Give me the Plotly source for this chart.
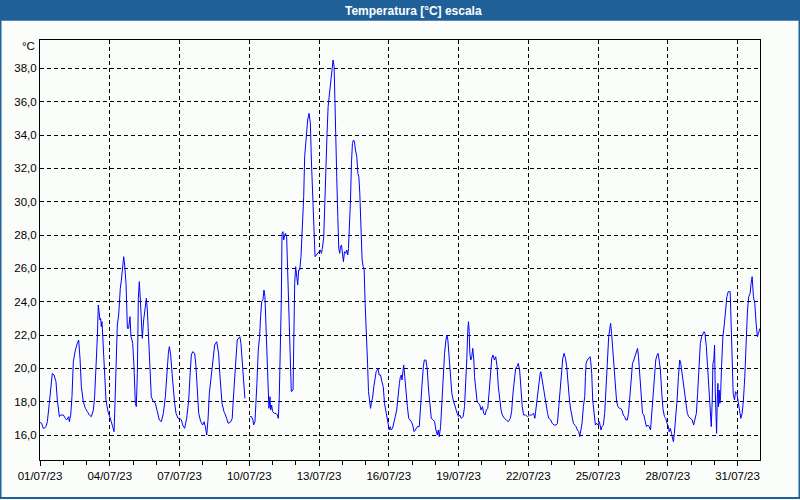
import datetime as dt
import plotly.graph_objects as go

# ---- data: hours since 2023-07-01 00:00 and temperature [°C] ----
seg1_hours = [0.0, 1.7, 3.4, 4.1, 6.2, 7.6, 9.6, 11.4, 12.7, 14.5, 16.5, 17.9, 20.0, 21.3, 24.1, 26.2, 27.5, 29.6, 30.3, 31.7,
              33.0, 34.4, 36.5, 38.5, 39.9, 41.3, 42.7, 44.7, 46.8, 48.9, 50.9, 53.0, 55.1, 56.4, 57.8, 59.2, 60.2, 61.3, 61.9, 62.6,
              63.3, 64.0, 65.4, 66.8, 68.1, 70.2, 72.3, 73.6, 75.0, 76.4, 77.1, 77.8, 79.1, 79.8, 81.2, 81.9, 82.9, 84.0, 85.3, 86.4,
              87.4, 88.8, 90.2, 91.5, 92.9, 93.9, 95.0, 95.7, 97.0, 98.4, 99.4, 100.5, 101.5, 102.5, 103.6, 104.6, 105.6, 107.0, 108.7, 109.8,
              110.8, 112.2, 113.6, 114.9, 117.0, 119.1, 121.1, 123.2, 125.3, 127.3, 129.4, 130.8, 132.5, 133.5, 134.9, 136.3, 137.6, 139.0, 140.4, 142.5,
              144.5, 145.9, 147.3, 149.3, 151.4, 153.5, 154.8, 156.2, 157.6, 159.7, 161.0, 162.4, 163.8, 165.9, 167.9, 169.3, 170.7, 172.1, 173.4, 174.8,
              176.9, 178.9, 180.3, 182.4, 184.4, 185.8, 187.9, 189.9]
seg1_temp = [16.75, 16.7, 16.4, 16.4, 16.5, 16.8, 17.9, 19.1, 19.7, 19.6, 19.2, 18.1, 17.1, 17.2, 17.2, 17.0, 16.9, 17.1, 16.8, 17.2,
             18.3, 20.4, 21.1, 21.5, 21.7, 20.6, 18.9, 18.0, 17.6, 17.4, 17.2, 17.1, 17.5, 18.3, 19.9, 21.9, 23.8, 23.4, 22.9, 23.0,
             22.5, 22.8, 21.3, 19.9, 18.1, 17.4, 17.1, 16.8, 16.5, 16.2, 17.3, 19.1, 21.5, 22.6, 23.2, 24.3, 24.8, 25.3, 26.0, 26.7,
             26.2, 25.1, 22.4, 22.4, 23.1, 21.9, 21.7, 21.5, 20.1, 17.9, 17.7, 19.7, 24.2, 25.2, 24.1, 22.5, 21.8, 22.9, 23.6, 24.2,
             23.5, 21.5, 19.3, 18.3, 18.0, 17.9, 17.4, 16.9, 16.8, 17.3, 18.3, 19.7, 20.9, 21.3, 20.8, 19.7, 18.7, 17.9, 17.3, 17.0,
             17.0, 16.9, 16.6, 16.4, 17.0, 18.1, 19.5, 20.8, 21.0, 20.9, 20.1, 18.5, 17.3, 16.8, 16.6, 16.8, 16.5, 16.0, 16.9, 18.5,
             19.7, 20.9, 21.4, 21.6, 20.9, 19.5, 17.9, 17.4]

seg2_hours = [190.8, 192.6, 194.3, 197.0, 198.4, 199.5, 201.2, 202.2, 203.6, 205.3, 206.3, 207.4, 208.8, 210.1, 211.5, 213.0,
              216.7, 218.4, 219.8, 220.5, 221.9, 222.9, 223.9, 225.3, 226.7, 227.7, 228.8, 230.1, 231.2, 232.2, 233.2, 234.3, 235.3, 236.3,
              237.4, 238.1, 239.1, 240.1, 241.9, 243.6, 245.0, 246.0, 247.0, 248.1, 249.1, 249.8, 250.8, 251.5, 252.2, 253.2, 254.6, 255.7,
              256.7, 257.7, 258.8, 259.4, 261.2, 261.9, 262.9, 263.9, 265.0, 266.0, 267.0, 268.1, 269.4, 270.8, 272.2, 273.2, 274.3, 275.3,
              276.3, 277.7, 279.1, 280.1, 281.2, 282.2, 283.2, 283.9, 285.3, 286.7, 288.1, 289.4, 290.5, 291.5, 292.9, 293.9, 295.0, 296.3,
              297.4, 298.4, 299.8, 300.8, 301.9, 302.5, 303.6, 304.6, 305.6, 306.3, 307.4, 308.4, 309.4, 310.1, 311.2, 312.2, 313.2, 314.3,
              315.6, 316.7, 317.7, 318.4, 319.4, 320.5, 321.5, 322.5, 323.6, 324.6, 325.6, 327.0, 328.1, 329.1, 330.1, 331.5, 332.5, 333.6,
              334.6, 335.6, 337.0, 338.1, 339.1, 340.1, 341.2, 342.2, 343.2, 344.6, 346.0, 347.0, 348.1, 348.8, 350.1, 351.5, 352.9, 354.3,
              355.6, 357.0, 358.4, 359.4, 360.5, 361.5, 362.5, 363.9, 365.3, 366.7]
seg2_temp = [17.3, 17.0, 16.7, 16.8, 17.0, 18.1, 19.3, 20.5, 21.7, 21.8, 21.9, 21.5, 20.4, 19.3, 18.2, None,
             17.1, 17.1, 16.9, 16.6, 16.8, 17.7, 19.1, 21.1, 21.9, 23.1, 24.0, 24.1, 24.7, 24.3, 22.7, 20.7, 19.3, 17.6,
             18.3, 17.5, 17.8, 17.4, 17.3, 17.3, 17.2, 17.0, 18.3, 20.7, 24.1, 28.1, 28.2, 27.7, 28.0, 28.1, 27.9, 25.9,
             23.9, 22.3, 20.1, 18.6, 18.7, 21.5, 25.1, 26.1, 25.5, 25.0, 25.9, 25.9, 26.7, 28.5, 30.3, 32.7, 33.7, 34.5,
             34.9, 35.3, 34.7, 32.5, 31.1, 29.5, 27.7, 26.7, 26.8, 26.9, 27.0, 27.1, 26.9, 27.2, 27.9, 30.1, 32.1, 34.1,
             35.7, 36.3, 36.9, 37.5, 38.2, 38.5, 38.1, 36.1, 34.3, 31.5, 29.1, 27.2, 26.9, 27.3, 27.4, 26.7, 26.4, 27.0,
             26.9, 27.1, 26.8, 27.2, 28.3, 30.1, 32.3, 33.5, 33.7, 33.6, 33.1, 32.7, 31.7, 31.5, 30.5, 28.7, 26.5, 26.1,
             25.9, 23.9, 22.3, 20.3, 18.6, 18.2, 17.6, 18.0, 18.2, 18.9, 19.5, 19.8, 19.9, 20.0, 19.6, 19.6, 19.2, 18.9,
             17.9, 17.4, 16.9, 16.6, 16.3, 16.5, 16.3, 16.4, 16.7, 17.1]

seg3_hours = [368.2, 369.6, 371.0, 372.0, 373.0, 373.7, 374.4, 375.4, 376.5, 377.8, 379.2, 380.6, 382.0, 383.3, 384.7, 386.1, 387.4,
              389.5, 391.5, 392.9, 394.3, 395.7, 396.7, 398.4, 399.8, 401.1, 402.5, 403.9, 406.0, 407.3, 408.7, 410.1, 411.1, 412.1, 413.5,
              414.9, 416.2, 417.6, 419.0, 420.0, 421.0, 422.4, 423.8, 425.1, 426.5, 427.9, 429.2, 430.6, 432.0, 433.4, 434.7, 436.8, 438.2,
              439.5, 440.6, 441.6, 442.3, 443.0, 443.7, 444.7, 445.7, 446.7, 447.8, 448.5, 449.8, 451.2, 452.6, 454.0, 455.3, 456.7, 458.0,
              459.4, 460.8, 462.2, 463.5, 464.9, 466.3, 467.6, 469.0, 470.4, 471.8, 473.1, 474.5, 475.9, 477.2, 479.3, 481.4, 483.4, 485.5,
              486.8, 488.2, 489.6, 491.0, 492.3, 493.7, 495.1, 496.4, 497.8, 499.2, 501.2, 503.3, 505.4, 507.4, 509.5, 510.8, 512.2, 513.6,
              515.0, 516.3, 517.0, 518.4, 519.8, 521.1, 522.5, 523.9, 525.2, 527.3, 528.7, 530.7, 532.8, 534.1, 535.5, 536.9, 538.3, 539.6,
              541.0, 542.4, 543.7, 545.1, 546.5, 547.9, 549.2, 550.6, 552.0, 553.3, 554.7, 556.1, 557.1]
seg3_temp = [17.5, 18.5, 19.1, 19.5, 19.6, 19.3, 19.9, 20.2, 19.5, 18.3, 17.7, 17.0, 16.9, 16.8, 16.6, 16.2, 16.3,
             16.5, 16.5, 17.5, 19.0, 20.1, 20.5, 20.5, 19.9, 18.7, 17.6, 17.0, 16.9, 16.8, 16.3, 16.0, 16.3, 15.9, 16.5,
             18.1, 19.5, 20.9, 21.7, 22.0, 21.7, 20.5, 19.3, 18.5, 18.1, 17.8, 17.5, 17.3, 17.1, 17.2, 17.0, 17.1, 17.7,
             18.9, 20.6, 22.3, 22.8, 22.2, 20.9, 20.5, 20.7, 21.2, 20.5, 19.5, 18.5, 18.0, 17.9, 17.8, 17.5, 17.7, 17.3,
             17.2, 17.5, 17.6, 18.5, 19.7, 20.6, 20.8, 20.5, 20.7, 20.1, 18.9, 18.1, 17.5, 17.2, 17.0, 16.9, 16.8, 17.0,
             17.4, 18.5, 19.3, 20.0, 20.1, 20.3, 19.9, 18.7, 17.7, 17.2, 17.2, 17.1, 17.2, 17.2, 17.3, 17.0, 17.7, 18.3,
             19.3, 19.7, 19.8, 19.3, 18.7, 18.1, 17.7, 17.3, 17.0, 16.9, 16.7, 16.6, 16.6, 16.7, 17.7, 18.9, 20.1, 20.6,
             20.9, 20.6, 20.1, 18.9, 18.1, 17.5, 17.0, 16.7, 16.6, 16.5, 16.3, 16.2, 15.9]

seg4_hours = [559.5, 560.9, 562.3, 563.0, 563.7, 565.0, 566.4, 567.8, 568.5, 569.5, 570.5, 571.9, 573.3, 574.6, 576.0, 577.4, 578.1,
              579.1, 580.1, 581.5, 582.9, 584.2, 585.6, 587.0, 588.3, 589.0, 590.0, 591.1, 592.4, 593.8, 595.2, 596.6, 597.9, 599.3, 600.7,
              602.1, 603.4, 604.8, 606.2, 607.5, 608.9, 610.3, 611.6, 613.0, 614.4, 615.8, 616.8, 617.8, 619.2, 620.6, 621.9, 623.3, 624.7,
              626.0, 627.4, 628.8, 630.2, 631.5, 632.9, 634.3, 635.6, 637.0, 638.0, 639.1, 640.4, 641.8, 643.2, 644.6, 645.9, 647.3, 648.7,
              649.4, 650.7, 651.8, 652.8, 653.8, 654.8, 656.2, 657.6, 659.0, 660.3, 661.4, 662.7, 664.1, 665.5, 666.8, 668.2, 669.6, 671.3,
              673.3, 674.7, 676.1, 677.5, 678.8, 680.2, 681.6, 683.0, 684.3, 685.4, 686.4, 687.8, 689.1, 690.5, 691.9, 692.9, 693.9, 694.6,
              695.6, 696.3, 697.0, 697.7, 698.4, 699.1, 699.7, 700.4, 701.1, 701.8, 702.5, 703.5, 704.9, 706.3, 707.6, 709.0, 710.4, 712.4,
              713.5, 714.5, 715.5, 716.9, 717.9, 719.3, 720.7, 722.0, 723.4, 724.8, 726.1, 727.5, 728.9, 730.3, 731.6, 733.0, 734.0, 735.1,
              736.4, 737.8, 739.2, 740.5, 741.6, 742.6, 743.2]
seg4_temp = [16.7, 17.7, 18.3, 19.5, 20.3, 20.5, 20.6, 20.7, 20.4, 19.7, 18.1, 17.1, 16.6, 16.7, 16.6, 16.8, 16.6,
             16.3, 16.5, 16.6, 17.3, 18.5, 20.3, 21.9, 22.5, 22.7, 22.1, 21.3, 20.5, 19.1, 18.0, 17.7, 17.6, 17.6, 17.5,
             17.2, 17.1, 16.9, 16.9, 17.3, 18.5, 19.3, 20.3, 20.5, 20.8, 21.1, 21.2, 20.7, 19.7, 18.5, 17.3, 17.2, 16.7,
             16.5, 16.6, 16.5, 16.3, 17.3, 18.5, 19.9, 20.5, 20.8, 20.9, 20.5, 19.9, 18.5, 17.5, 17.1, 17.0, 16.7, 16.5,
             16.2, 16.4, 16.1, 15.9, 15.6, 16.1, 16.9, 18.1, 19.5, 20.5, 20.3, 19.7, 18.9, 18.5, 17.9, 17.3, 17.1, 17.0,
             16.9, 16.6, 16.9, 17.3, 18.5, 19.9, 21.5, 21.9, 22.1, 22.2, 22.1, 21.3, 20.1, 18.5, 17.5, 16.5, 18.1, 20.3,
             20.5, 21.4, 18.7, 17.3, 16.1, 18.1, 19.1, 17.7, 18.7, 17.9, 18.3, 20.1, 21.9, 22.6, 23.5, 24.3, 24.6, 24.6,
             22.5, 20.1, 18.5, 18.1, 18.6, 18.5, 17.9, 17.3, 17.0, 17.3, 18.1, 19.5, 22.1, 23.5, 24.3, 24.5, 25.1, 25.5,
             24.3, 23.9, 22.7, 21.9, 22.1, 22.3, 22.4]

start = dt.datetime(2023, 7, 1)
hours = seg1_hours + seg2_hours + seg3_hours + seg4_hours
temps = seg1_temp + seg2_temp + seg3_temp + seg4_temp
times = [start + dt.timedelta(hours=h) for h in hours]

x_tick_labels = ["01/07/23", "04/07/23", "07/07/23", "10/07/23", "13/07/23", "16/07/23",
                 "19/07/23", "22/07/23", "25/07/23", "28/07/23", "31/07/23"]
x_tick_vals = [dt.datetime.strptime(s, "%d/%m/%y") for s in x_tick_labels]
y_tick_vals = [16, 18, 20, 22, 24, 26, 28, 30, 32, 34, 36, 38]
y_tick_labels = [f"{v},0" for v in y_tick_vals]

title_text = "Temperatura [°C] escala"
unit_text = "°C"

BG = "#fbfdfb"
BAR = "#1f6098"
FONT = "Liberation Sans"
DASH = "4px,3px"

fig = go.Figure()
fig.add_trace(go.Scatter(x=times, y=temps, mode="lines",
                         line=dict(color="#0000ff", width=1),
                         connectgaps=False, hoverinfo="skip"))

W, H = 800, 500
L, R, T, B = 40, 40, 40, 40
pw, ph = W - L - R, H - T - B

def px_x(p):
    return (p - L) / pw

def px_y(p):
    return (H - B - p) / ph

fig.update_layout(
    width=W, height=H,
    margin=dict(l=L, r=R, t=T, b=B, autoexpand=False),
    paper_bgcolor=BG, plot_bgcolor=BG,
    showlegend=False,
    font=dict(family=FONT, size=11.5, color="#000000"),
    shapes=[
        dict(type="rect", xref="paper", yref="paper",
             x0=px_x(0), x1=px_x(W), y0=px_y(20.7), y1=px_y(0),
             fillcolor=BAR, line=dict(width=0), layer="above"),
        dict(type="rect", xref="paper", yref="paper",
             x0=px_x(0.5), x1=px_x(W - 0.5), y0=px_y(H - 2), y1=px_y(0.5),
             fillcolor="rgba(0,0,0,0)", line=dict(color=BAR, width=2), layer="above"),
    ],
    annotations=[
        dict(text=f"<b>{title_text}</b>", xref="paper", yref="paper",
             x=px_x(413), y=px_y(10.5), xanchor="center", yanchor="middle",
             showarrow=False, font=dict(family=FONT, size=12, color="#ffffff")),
        dict(text=unit_text, xref="paper", yref="paper",
             x=px_x(36.5), y=px_y(46.5), xanchor="right", yanchor="middle",
             showarrow=False, font=dict(family=FONT, size=11.5, color="#000000")),
    ],
)

fig.update_xaxes(
    range=[start, start + dt.timedelta(hours=743.2)],
    tickmode="array", tickvals=x_tick_vals, ticktext=x_tick_labels,
    ticks="outside", ticklen=5, tickcolor="#000000",
    showgrid=True, gridcolor="#000000", griddash=DASH, gridwidth=1,
    showline=True, linecolor="#000000", linewidth=1, mirror=True,
    zeroline=False,
    minor=dict(ticks="outside", ticklen=4, tickcolor="#000000",
               tickmode="linear", tick0=start, dtick=86400000, showgrid=False),
)
fig.update_yaxes(
    range=[14.5, 39.7],
    tickmode="array", tickvals=y_tick_vals, ticktext=y_tick_labels,
    ticks="", showgrid=True, gridcolor="#000000", griddash=DASH, gridwidth=1,
    showline=True, linecolor="#000000", linewidth=1, mirror=True,
    zeroline=False,
)

fig.write_html(
    "out.html",
    config={"displayModeBar": False},
    post_script="document.body.style.margin='0';document.body.style.background='" + BG + "';",
)
